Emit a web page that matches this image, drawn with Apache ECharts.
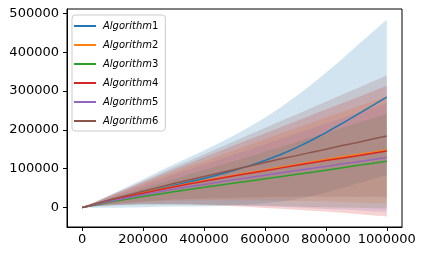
<!DOCTYPE html>
<html><head><meta charset="utf-8">
<script src="https://cdn.jsdelivr.net/npm/echarts@6/dist/echarts.min.js"></script>
<style>html,body{margin:0;padding:0;background:#fff}#c{width:424px;height:255px}</style>
</head><body><div id="c"></div>
<script>
// ---- data ----
const xValues = [0,50000,100000,150000,200000,250000,300000,350000,400000,450000,500000,
  550000,600000,650000,700000,750000,800000,850000,900000,950000,1000000];
const seriesNames = ['Algorithm1','Algorithm2','Algorithm3','Algorithm4','Algorithm5','Algorithm6'];

const alg1Mean = [0,8500,17500,27000,37000,47000,57000,66000,75000,85000,96000,108000,121000,136000,153000,172000,193000,215000,238000,261000,284000];
const alg1Std  = [0,9000,18000,27000,36000,45000,54000,63000,72000,81000,90000,100000,110000,121000,132000,143000,154000,165000,177000,188000,200000];

const alg2Mean = [0,10000,20000,29000,38000,46000,54000,62000,69000,76000,83000,90000,97000,104000,110000,117000,124000,130000,136000,142000,148500];
const alg2Std  = [0,5100,11000,17100,23500,30000,36700,43500,50400,57300,64400,71500,78700,86000,93200,100600,107900,115400,123000,130400,138000];

const alg3Mean = [0,8000,15500,22000,28500,34500,40500,46500,52000,57500,63000,68500,74000,79500,85000,90500,96000,102000,108000,113500,119500];
const alg3Std  = [0,4500,9700,15100,20700,26600,32400,38400,44500,50600,57000,63200,69500,76000,82400,88900,95400,102000,108700,115300,122000];

const alg4Mean = [0,10000,19500,28500,37000,45000,53000,60500,68000,75000,82000,88500,95000,101500,108000,114500,121000,127000,133000,139000,145300];
const alg4Std  = [0,6200,13300,20800,28600,36600,44700,52900,61300,69700,78400,87000,95800,104700,113400,122500,131400,140400,149700,158800,168000];

const alg5Mean = [0,9000,17500,25500,33000,40000,47000,53500,59500,65500,71500,77500,83000,89000,95000,100500,106000,112000,117500,123000,129000];
const alg5Std  = [0,5200,11100,17400,23800,30500,37200,44100,51100,58100,65400,72500,79800,87200,94500,102100,109500,117000,124700,132300,140000];

const alg6Mean = [0,11000,22000,32000,42000,52000,62000,71000,80000,89000,98000,107000,116000,125000,133000,142000,150000,159000,167000,176000,184000];
const alg6Std  = [0,5800,12400,19300,26500,34000,41500,49100,56900,64700,72900,80800,88900,97200,105300,113700,122000,130400,139000,147400,156000];

const xTickValues = [0,200000,400000,600000,800000,1000000];
const yTickValues = [0,100000,200000,300000,400000,500000];

// ---- styling ----
const means = [alg1Mean, alg2Mean, alg3Mean, alg4Mean, alg5Mean, alg6Mean];
const stds  = [alg1Std, alg2Std, alg3Std, alg4Std, alg5Std, alg6Std];
const lineColors = ['#1f77b4','#ff7f0e','#2ca02c','#d62728','#9467bd','#8c564b'];
const fillColors = ['rgba(31,119,180,0.2)','rgba(255,127,14,0.2)','rgba(44,160,44,0.2)',
  'rgba(214,39,40,0.2)','rgba(148,103,189,0.2)','rgba(140,86,75,0.2)'];
const FONT = 'DejaVu Sans';

function bandSeries(k) {
  const rows = xValues.map((x, i) => [x, means[k][i] - stds[k][i], means[k][i] + stds[k][i]]);
  return {
    type: 'custom', name: seriesNames[k] + '_band', silent: true, z: 1,
    data: rows, encode: { x: 0, y: [1, 2] }, clip: true,
    renderItem: function (params, api) {
      if (params.dataIndex !== 0) return null;
      const up = rows.map(r => api.coord([r[0], r[2]]));
      const lo = rows.map(r => api.coord([r[0], r[1]])).reverse();
      return { type: 'polygon', shape: { points: up.concat(lo) }, style: { fill: fillColors[k] } };
    }
  };
}
function lineSeries(k) {
  return {
    type: 'line', name: seriesNames[k], z: 3, showSymbol: false, symbol: 'none', silent: true,
    data: xValues.map((x, i) => [x, means[k][i]]),
    lineStyle: { color: lineColors[k], width: 1.5 }, itemStyle: { color: lineColors[k] },
    animation: false
  };
}
const series = [];
for (let k = 0; k < 6; k++) series.push(bandSeries(k));
for (let k = 0; k < 6; k++) series.push(lineSeries(k));

const chart = echarts.init(document.getElementById('c'), null, { renderer: 'canvas' });
chart.setOption({
  animation: false,
  backgroundColor: '#fff',
  grid: { left: 67, top: 9, width: 335, height: 218, show: true, borderColor: '#000', borderWidth: 1,
          backgroundColor: 'transparent', containLabel: false, outerBoundsMode: 'none' },
  xAxis: {
    type: 'value', min: -50000, max: 1050000,
    splitLine: { show: false },
    axisLine: { show: true, onZero: false, lineStyle: { color: '#000', width: 1 } },
    axisTick: { show: true, customValues: xTickValues, length: 4, lineStyle: { color: '#000' } },
    axisLabel: { customValues: xTickValues, formatter: v => String(v), fontSize: 13, fontFamily: FONT, color: '#000', margin: 6 }
  },
  yAxis: {
    type: 'value', min: -50000, max: 511000,
    splitLine: { show: false },
    axisLine: { show: true, onZero: false, lineStyle: { color: '#000', width: 1 } },
    axisTick: { show: true, customValues: yTickValues, length: 4, lineStyle: { color: '#000' } },
    axisLabel: { customValues: yTickValues, formatter: v => String(v), fontSize: 13, fontFamily: FONT, color: '#000', margin: 8 }
  },
  legend: {
    orient: 'vertical', left: 72, top: 15, padding: [6, 7, 5, 2], itemGap: 9,
    itemWidth: 22, itemHeight: 2, icon: 'rect',
    backgroundColor: 'rgba(255,255,255,0.8)', borderColor: '#cccccc', borderWidth: 1, borderRadius: 3,
    data: seriesNames, selectedMode: false,
    formatter: n => '{i|' + n.replace(/\d+$/, '') + '}{n|' + n.match(/\d+$/)[0] + '}',
    textStyle: {
      padding: [0, 0, 0, 2],
      rich: {
        i: { fontFamily: FONT, fontStyle: 'italic', fontSize: 10, color: '#000' },
        n: { fontFamily: FONT, fontSize: 10, color: '#000' }
      }
    }
  },
  series: series
});
</script></body></html>
